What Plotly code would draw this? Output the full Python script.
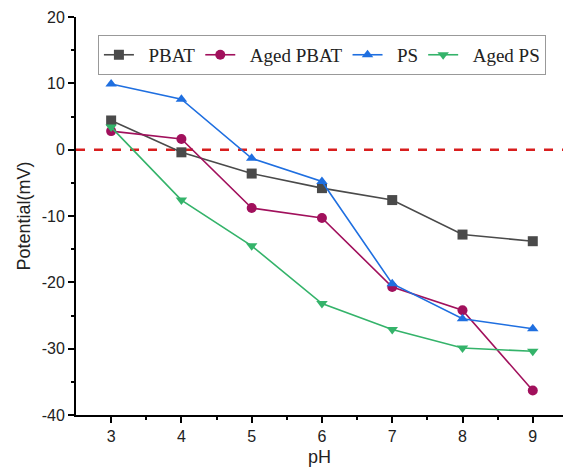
import plotly.graph_objects as go

ph = [3, 4, 5, 6, 7, 8, 9]
pbat = [4.4, -0.4, -3.6, -5.8, -7.6, -12.8, -13.8]
aged_pbat = [2.8, 1.6, -8.8, -10.3, -20.7, -24.2, -36.3]
ps = [9.9, 7.6, -1.3, -4.8, -20.2, -25.5, -27.0]
aged_ps = [3.4, -7.6, -14.5, -23.2, -27.1, -29.9, -30.4]

y_ticks = [-40, -30, -20, -10, 0, 10, 20]
y_ticktext = ["-40", "-30", "-20", "-10", "0", "10", "20"]

series = [
    ("PBAT", pbat, "#4a4a4a", "square"),
    ("Aged PBAT", aged_pbat, "#a1105c", "circle"),
    ("PS", ps, "#1f6fe0", "triangle-up"),
    ("Aged PS", aged_ps, "#34b36a", "triangle-down"),
]

NBSP = "\u00a0"

fig = go.Figure()

# zero reference line
fig.add_trace(go.Scatter(
    x=[2.5, 9.43], y=[0, 0], mode="lines",
    line=dict(color="#d81e1e", width=2.5, dash="dash"),
    showlegend=False, hoverinfo="skip",
))

for name, vals, color, sym in series:
    fig.add_trace(go.Scatter(
        x=ph, y=vals, name=NBSP * 2 + name, mode="lines+markers",
        line=dict(color=color, width=1.6),
        marker=dict(symbol=sym, size=10, color=color),
    ))

fig.update_layout(
    width=563, height=475,
    margin=dict(l=76, r=0, t=17, b=60),
    plot_bgcolor="white", paper_bgcolor="white",
    font=dict(family="Liberation Sans, Arial", size=16, color="#222"),
    legend=dict(
        orientation="h", x=0.045, y=0.955, xanchor="left", yanchor="top",
        bgcolor="white", bordercolor="#999", borderwidth=1,
        font=dict(family="Liberation Serif, Times New Roman", size=19, color="#222"),
        tracegroupgap=0,
    ),
    xaxis=dict(
        range=[2.5, 9.43], tickmode="array", tickvals=ph,
        showgrid=False, zeroline=False,
        showline=True, linecolor="black", linewidth=2,
        ticks="outside", ticklen=6, tickwidth=1.5, tickcolor="black",
        minor=dict(tickvals=[3.5, 4.5, 5.5, 6.5, 7.5, 8.5], ticks="outside",
                   ticklen=3, tickwidth=1.5, tickcolor="black"),
        title=dict(text="pH", font=dict(size=18), standoff=6),
    ),
    yaxis=dict(
        range=[-40, 20], tickmode="array", tickvals=y_ticks, ticktext=y_ticktext,
        showgrid=False, zeroline=False,
        showline=True, linecolor="black", linewidth=2,
        ticks="outside", ticklen=6, tickwidth=1.5, tickcolor="black",
        minor=dict(tickvals=[-35, -25, -15, -5, 5, 15], ticks="outside",
                   ticklen=3, tickwidth=1.5, tickcolor="black"),
        title=dict(text="Potential(mV)", font=dict(size=18), standoff=6),
    ),
)

fig.write_html("out.html")
